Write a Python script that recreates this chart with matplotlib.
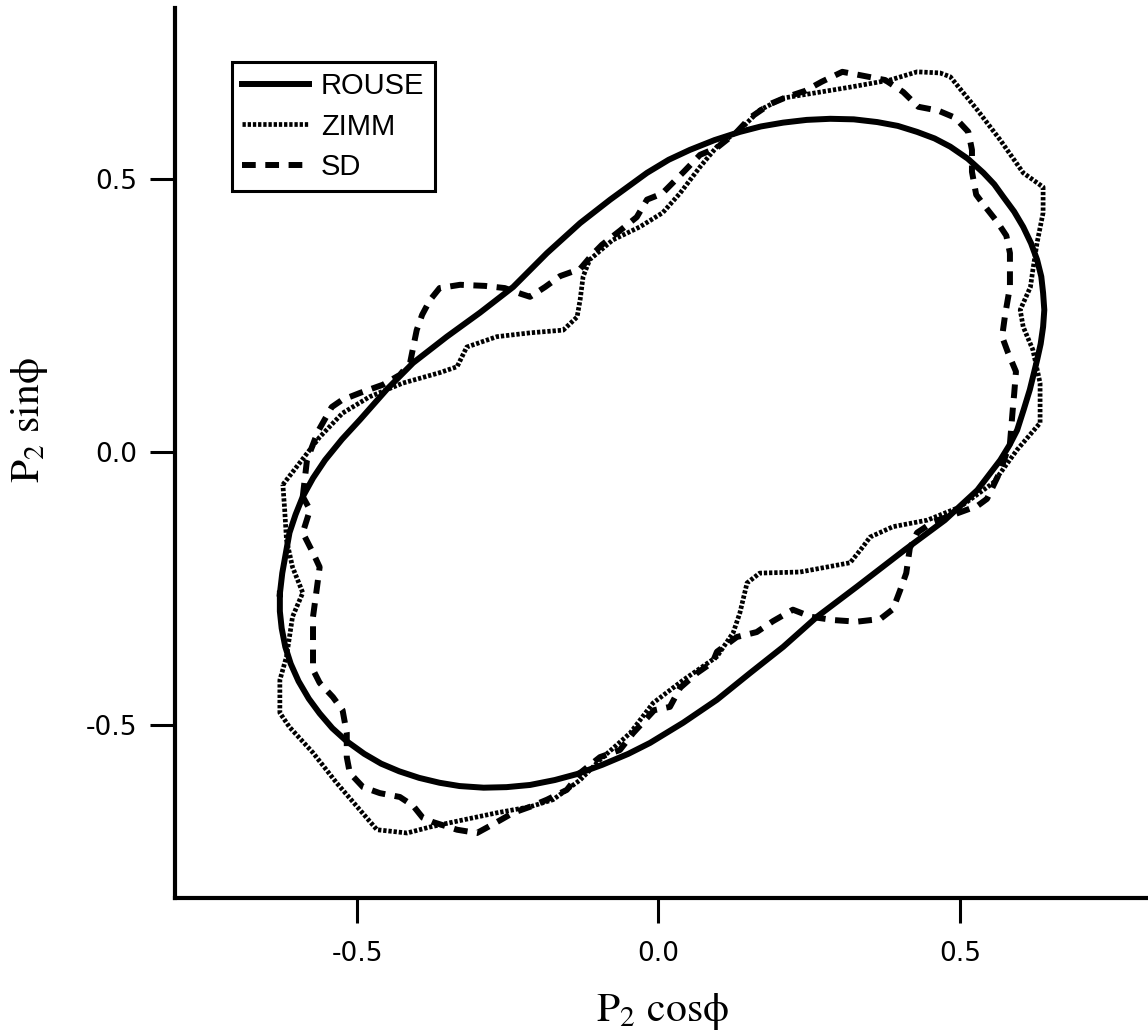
import numpy as np
import matplotlib
matplotlib.use("Agg")
import matplotlib.pyplot as plt

plt.rcParams['mathtext.fontset'] = 'stix'
plt.rcParams['font.family'] = ['Liberation Sans', 'DejaVu Sans']

# Rouse model orbit (P2 cos phi, P2 sin phi)
rouse_x = [-0.628, -0.624, -0.618, -0.612, -0.602, -0.590, -0.573, -0.553,
           -0.525, -0.495, -0.451, -0.407, -0.351, -0.296, -0.241, -0.185,
           -0.130, -0.080, -0.019, 0.017, 0.052, 0.093, 0.135, 0.170,
           0.207, 0.246, 0.285, 0.324, 0.363, 0.397, 0.429, 0.458, 0.484,
           0.513, 0.539, 0.557, 0.572, 0.590, 0.605, 0.618, 0.628, 0.635,
           0.638, 0.640, 0.638, 0.634, 0.628, 0.622, 0.616, 0.606, 0.595,
           0.582, 0.567, 0.529, 0.475, 0.409, 0.329, 0.263, 0.207, 0.152,
           0.097, 0.041, -0.014, -0.050, -0.093, -0.135, -0.172, -0.213,
           -0.252, -0.290, -0.330, -0.363, -0.397, -0.430, -0.460, -0.488,
           -0.517, -0.541, -0.562, -0.580, -0.597, -0.610, -0.619, -0.625,
           -0.628]
rouse_y = [-0.260, -0.222, -0.185, -0.148, -0.115, -0.082, -0.048, -0.015,
           0.023, 0.059, 0.114, 0.163, 0.211, 0.255, 0.302, 0.364,
           0.419, 0.462, 0.511, 0.535, 0.553, 0.571, 0.586, 0.596,
           0.603, 0.608, 0.610, 0.609, 0.604, 0.597, 0.586, 0.574, 0.559,
           0.537, 0.511, 0.490, 0.467, 0.440, 0.412, 0.382, 0.352, 0.321,
           0.291, 0.260, 0.229, 0.198, 0.168, 0.141, 0.114, 0.078, 0.040,
           0.012, -0.015, -0.070, -0.125, -0.179, -0.247, -0.302, -0.357, -0.405,
           -0.454, -0.496, -0.533, -0.553, -0.573, -0.590, -0.601, -0.610,
           -0.614, -0.615, -0.612, -0.606, -0.597, -0.585, -0.571, -0.553,
           -0.530, -0.506, -0.479, -0.452, -0.420, -0.388, -0.357, -0.323,
           -0.292]

# Zimm model orbit
zimm_x = [-0.623, -0.595, -0.562, -0.524, -0.479, -0.424, -0.363, -0.334,
          -0.318, -0.268, -0.213, -0.158, -0.135, -0.130, -0.125, -0.114,
          -0.076, -0.031, 0.007, 0.036, 0.069, 0.097, 0.140, 0.168, 0.207,
          0.263, 0.318, 0.384, 0.429, 0.467, 0.484, 0.529, 0.567, 0.605,
          0.638, 0.638, 0.628, 0.621, 0.617, 0.600, 0.605, 0.621, 0.633,
          0.633, 0.595, 0.555, 0.500, 0.446, 0.389, 0.351, 0.339, 0.318,
          0.235, 0.168, 0.147, 0.135, 0.124, 0.097, 0.041, -0.009, -0.047,
          -0.097, -0.130, -0.175, -0.213, -0.268, -0.324, -0.379, -0.417,
          -0.467, -0.495, -0.534, -0.573, -0.612, -0.628, -0.628, -0.617,
          -0.607, -0.590, -0.607, -0.617, -0.620]
zimm_y = [-0.060, -0.020, 0.027, 0.071, 0.101, 0.126, 0.145, 0.156,
          0.192, 0.211, 0.218, 0.223, 0.247, 0.278, 0.321, 0.352,
          0.388, 0.412, 0.438, 0.474, 0.522, 0.559, 0.595, 0.626, 0.648,
          0.658, 0.668, 0.681, 0.696, 0.694, 0.687, 0.626, 0.571, 0.511,
          0.485, 0.438, 0.383, 0.333, 0.302, 0.260, 0.229, 0.187, 0.126,
          0.053, 0.004, -0.057, -0.101, -0.125, -0.137, -0.156, -0.174, -0.203,
          -0.220, -0.222, -0.240, -0.295, -0.331, -0.375, -0.418, -0.460, -0.515,
          -0.564, -0.601, -0.637, -0.650, -0.661, -0.674, -0.687, -0.698,
          -0.692, -0.656, -0.606, -0.551, -0.504, -0.478, -0.418, -0.375,
          -0.302, -0.258, -0.211, -0.161, -0.106]

# stochastic dynamics orbit
sd_x = [-0.590, -0.583, -0.565, -0.542, -0.525, -0.495, -0.457, -0.429,
        -0.412, -0.406, -0.401, -0.392, -0.379, -0.363, -0.329, -0.288,
        -0.255, -0.227, -0.213, -0.188, -0.163, -0.130, -0.110, -0.094,
        -0.064, -0.036, -0.019, 0.006, 0.042, 0.069, 0.097, 0.130, 0.152,
        0.185, 0.213, 0.243, 0.271, 0.305, 0.334, 0.376, 0.406, 0.431,
        0.464, 0.492, 0.514, 0.520, 0.520, 0.527, 0.542, 0.562, 0.577,
        0.583, 0.583, 0.575, 0.570, 0.580, 0.593, 0.590, 0.588, 0.583,
        0.565, 0.545, 0.529, 0.492, 0.456, 0.429, 0.417, 0.411, 0.401,
        0.389, 0.368, 0.329, 0.290, 0.253, 0.223, 0.190, 0.163, 0.130,
        0.097, 0.090, 0.064, 0.036, 0.019, -0.007, -0.042, -0.064, -0.097,
        -0.130, -0.152, -0.185, -0.213, -0.241, -0.268, -0.301, -0.334,
        -0.374, -0.391, -0.407, -0.429, -0.462, -0.490, -0.512, -0.517,
        -0.517, -0.524, -0.540, -0.562, -0.573, -0.573, -0.573, -0.567,
        -0.562, -0.573, -0.590, -0.578]
sd_y = [-0.082, -0.015, 0.037, 0.082, 0.095, 0.108, 0.123, 0.141,
        0.163, 0.196, 0.223, 0.251, 0.278, 0.300, 0.306, 0.304,
        0.300, 0.289, 0.284, 0.302, 0.322, 0.335, 0.361, 0.379,
        0.405, 0.430, 0.462, 0.473, 0.513, 0.544, 0.557, 0.586, 0.612,
        0.637, 0.650, 0.661, 0.678, 0.696, 0.690, 0.681, 0.659, 0.632,
        0.625, 0.612, 0.586, 0.553, 0.513, 0.471, 0.449, 0.421, 0.396,
        0.364, 0.302, 0.251, 0.211, 0.181, 0.147, 0.106, 0.082, 0.015,
        -0.040, -0.086, -0.099, -0.114, -0.128, -0.148, -0.176, -0.222, -0.253,
        -0.288, -0.306, -0.311, -0.308, -0.302, -0.289, -0.310, -0.330, -0.339,
        -0.366, -0.385, -0.405, -0.432, -0.467, -0.473, -0.515, -0.546, -0.559,
        -0.588, -0.619, -0.637, -0.650, -0.661, -0.678, -0.698, -0.692,
        -0.678, -0.670, -0.648, -0.632, -0.625, -0.614, -0.588, -0.559,
        -0.515, -0.473, -0.449, -0.423, -0.399, -0.368, -0.302, -0.253,
        -0.211, -0.185, -0.148, -0.106]

tick_vals = [-0.5, 0.0, 0.5]
tick_labels = ['-0.5', '0.0', '0.5']
series_names = ['ROUSE', 'ZIMM', 'SD']


def closed(a):
    a = np.asarray(a)
    return np.append(a, a[0])


fig = plt.figure(figsize=(11.48, 10.33), dpi=100)
ax = fig.add_axes([0.1524, 0.1307, 0.8476, 0.8616])

ax.plot(closed(rouse_x), closed(rouse_y), color='black', lw=4.3,
        solid_joinstyle='round', label=series_names[0])
ax.plot(closed(zimm_x), closed(zimm_y), color='black', lw=3.4,
        dashes=(0.7, 0.4), label=series_names[1])
ax.plot(closed(sd_x), closed(sd_y), color='black', lw=4.3,
        dashes=(2.3, 1.6), label=series_names[2])

ax.set_xlim(-0.802, 0.812)
ax.set_ylim(-0.817, 0.813)

for side in ['top', 'right']:
    ax.spines[side].set_visible(False)
for side in ['left', 'bottom']:
    ax.spines[side].set_linewidth(3.0)

ax.set_xticks(tick_vals)
ax.set_xticklabels(tick_labels)
ax.set_yticks(tick_vals)
ax.set_yticklabels(tick_labels)
ax.tick_params(axis='both', direction='out', length=18, width=2.2)
ax.tick_params(axis='x', pad=13)
ax.tick_params(axis='y', pad=9)
for lab in ax.get_xticklabels() + ax.get_yticklabels():
    lab.set_fontfamily('DejaVu Sans')
    lab.set_fontsize(19)

leg = ax.legend(loc='upper left', bbox_to_anchor=(0.0586, 0.939),
                borderaxespad=0.0, fontsize=21, handlelength=2.3,
                handletextpad=0.4, labelspacing=0.42, borderpad=0.35,
                fancybox=False, framealpha=1.0, edgecolor='black')
leg.get_frame().set_linewidth(2.2)

fig.text(662 / 1148, 1 - 1012 / 1033, 'P$_2$ cos\u03d5', family='STIXGeneral',
         fontsize=30, ha='center', va='center')
fig.text(30 / 1148, 1 - 420 / 1033, 'P$_2$ sin\u03d5', family='STIXGeneral',
         fontsize=30, ha='center', va='center', rotation=90)

fig.savefig('out.png', dpi=100)
